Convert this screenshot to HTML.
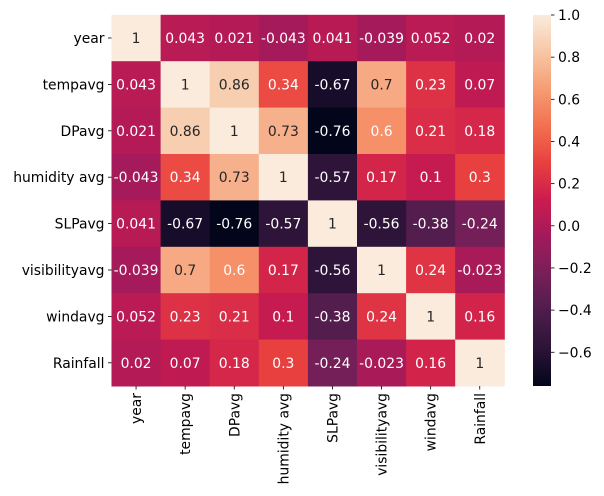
<!DOCTYPE html>
<html><head><meta charset="utf-8"><style>
body{margin:0;background:#fff;}
svg{display:block;font-family:"DejaVu Sans","Liberation Sans",sans-serif;}
</style></head><body>
<svg id="chart" width="604" height="496" xmlns="http://www.w3.org/2000/svg">
<defs><linearGradient id="cbg" x1="0" y1="1" x2="0" y2="0"></linearGradient></defs>
<g id="cells"></g>
<g id="ylabels"></g>
<g id="xlabels"></g>
<g id="cbar"></g>
</svg>
<script>
const labels=["year","tempavg","DPavg","humidity avg","SLPavg","visibilityavg","windavg","Rainfall"];
const values=[
[1,0.043,0.021,-0.043,0.041,-0.039,0.052,0.02],
[0.043,1,0.86,0.34,-0.67,0.7,0.23,0.07],
[0.021,0.86,1,0.73,-0.76,0.6,0.21,0.18],
[-0.043,0.34,0.73,1,-0.57,0.17,0.1,0.3],
[0.041,-0.67,-0.76,-0.57,1,-0.56,-0.38,-0.24],
[-0.039,0.7,0.6,0.17,-0.56,1,0.24,-0.023],
[0.052,0.23,0.21,0.1,-0.38,0.24,1,0.16],
[0.02,0.07,0.18,0.3,-0.24,-0.023,0.16,1]];
const cbTicks=[1.0,0.8,0.6,0.4,0.2,0.0,-0.2,-0.4,-0.6];
const NS="http://www.w3.org/2000/svg";
const stops=[[0,"#03051A"],[0.1,"#2B1337"],[0.2,"#4C1D4B"],[0.3,"#761F58"],[0.4,"#A11A5B"],[0.5,"#CB1B4F"],[0.6,"#E83F3F"],[0.7,"#F2704F"],[0.8,"#F69C73"],[0.9,"#F7C7A6"],[1,"#FAEBDD"]];
function hx(h){return [1,3,5].map(i=>parseInt(h.substr(i,2),16));}
function cmap(t){t=Math.max(0,Math.min(1,t));for(let i=1;i<stops.length;i++){if(t<=stops[i][0]){const a=stops[i-1],b=stops[i];const f=(t-a[0])/(b[0]-a[0]);const ca=hx(a[1]),cb=hx(b[1]);return ca.map((v,k)=>Math.round(v+(cb[k]-v)*f));}}return hx(stops[stops.length-1][1]);}
const vmin=Math.min(...values.flat()),vmax=Math.max(...values.flat());
const X0=111.5,Y0=14.8,CW=49.1,CH=46.4,n=labels.length;
const xs=j=>X0+j*CW, ys=i=>Y0+i*CH;
const FS='13.9';
function el(t,a,p){const e=document.createElementNS(NS,t);for(const k in a)e.setAttribute(k,a[k]);p.appendChild(e);return e;}
const cells=document.getElementById('cells');
values.forEach((row,i)=>row.forEach((v,j)=>{
 const c=cmap((v-vmin)/(vmax-vmin));
 const r=el('rect',{x:xs(j),y:ys(i),width:CW+0.5,height:CH+0.5,fill:`rgb(${c})`},cells);
 
 
 const lum=c.map(x=>{x/=255;return x<=0.03928?x/12.92:Math.pow((x+0.055)/1.055,2.4);});
 const L=0.2126*lum[0]+0.7152*lum[1]+0.0722*lum[2];
 const t=el('text',{x:xs(j)+CW/2,y:ys(i)+CH/2+5,'text-anchor':'middle','font-size':FS,fill:L>0.408?'#262626':'#fff'},cells);
 t.textContent=String(v);
 
 
}));
const yl=document.getElementById('ylabels'),xl=document.getElementById('xlabels');
labels.forEach((lb,i)=>{
 el('line',{x1:X0-3.5,x2:X0,y1:ys(i)+CH/2,y2:ys(i)+CH/2,stroke:'#000','stroke-width':0.8},yl);
 const t=el('text',{x:X0-7,y:ys(i)+CH/2+5,'text-anchor':'end','font-size':FS,fill:'#000'},yl);
 t.textContent=lb;
 
 
 const yb=Y0+n*CH;
 el('line',{x1:xs(i)+CW/2,x2:xs(i)+CW/2,y1:yb,y2:yb+3.5,stroke:'#000','stroke-width':0.8},xl);
 const tx=el('text',{x:0,y:0,'text-anchor':'end','font-size':FS,fill:'#000',transform:`translate(${xs(i)+CW/2+5},${yb+7}) rotate(-90)`},xl);
 tx.textContent=lb;
 
 
});
const g=document.getElementById('cbg');
for(let k=0;k<=20;k++){const c=cmap(k/20);el('stop',{offset:k/20,'stop-color':`rgb(${c})`},g);}
const cb=document.getElementById('cbar');
const CX=533,CTOP=15,CBOT=386,CWID=18;
const cy=v=>CBOT-(v-vmin)/(vmax-vmin)*(CBOT-CTOP);
const r=el('rect',{x:CX,y:CTOP,width:CWID,height:CBOT-CTOP,fill:'url(#cbg)'},cb);


cbTicks.forEach(v=>{
 el('line',{x1:CX+CWID,x2:CX+CWID+3.5,y1:cy(v),y2:cy(v),stroke:'#000','stroke-width':0.8},cb);
 const t=el('text',{x:CX+CWID+7,y:cy(v)+5,'font-size':FS,fill:'#000'},cb);
 t.textContent=(v<0?'\u2212'+Math.abs(v).toFixed(1):v.toFixed(1));
 
 
});
</script>
</body></html>
